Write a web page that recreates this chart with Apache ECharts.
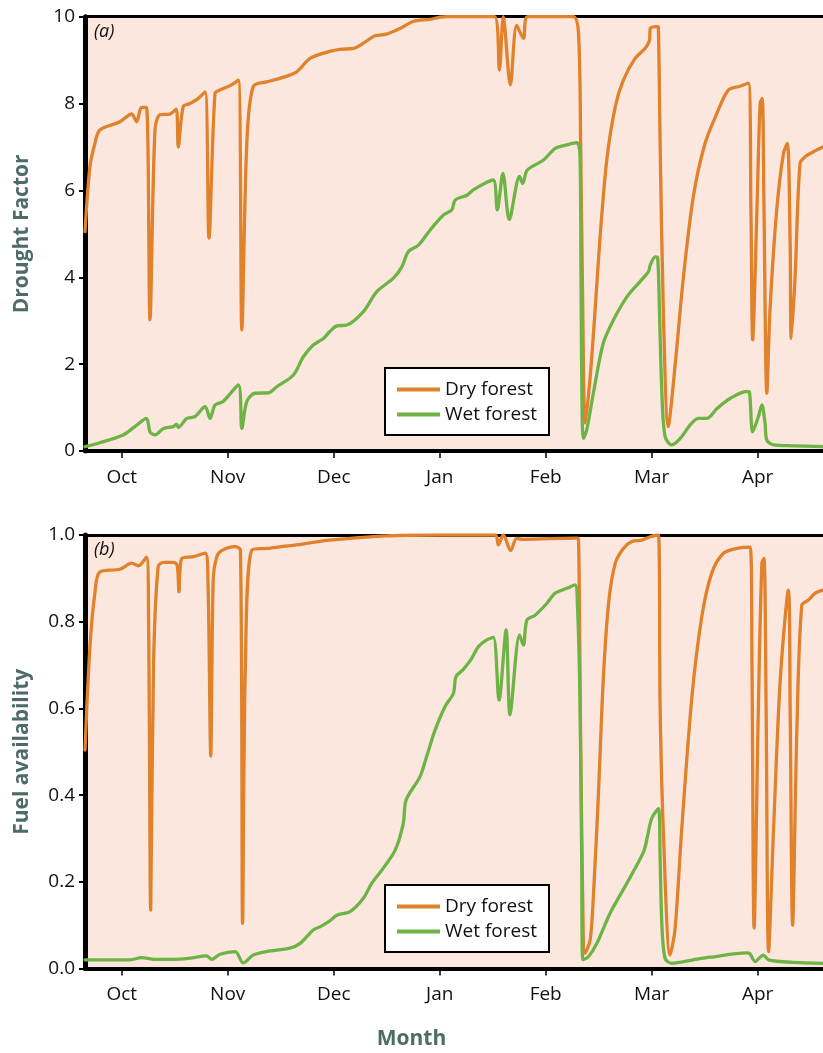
<!DOCTYPE html>
<html><head><meta charset="utf-8">
<script src="https://cdn.jsdelivr.net/npm/echarts@6/dist/echarts.min.js"></script>
<style>html,body{margin:0;padding:0;background:#fff}#c{width:823px;height:1053px}</style>
</head><body><div id="c"></div>
<script>
// x = days after the October tick (one month = 30 units)
const monthTicks = [0, 30, 60, 90, 120, 150, 180];
const monthLabels = ['Oct', 'Nov', 'Dec', 'Jan', 'Feb', 'Mar', 'Apr'];
const droughtTicks = [0, 2, 4, 6, 8, 10];
const fuelTicks = [0, 0.2, 0.4, 0.6, 0.8, 1.0];

const dryDrought = [[-10.4,5.05],[-9.0,6.55],[-7.6,7.08],[-6.2,7.39],[-0.5,7.58],[2.8,7.76],[4.2,7.58],[5.6,7.91],[7.0,7.91],[8.0,3.02],[9.4,7.39],[10.8,7.74],[13.7,7.76],[15.4,7.87],[16.0,7.0],[17.4,7.93],[19.3,8.0],[21.7,8.12],[23.6,8.27],[24.7,4.9],[26.4,8.24],[27.8,8.31],[31.1,8.43],[33.0,8.54],[34.0,2.79],[35.4,7.08],[37.2,8.39],[41.0,8.5],[44.8,8.58],[49.5,8.73],[53.3,9.04],[58.9,9.2],[61.8,9.25],[65.6,9.27],[68.4,9.39],[71.7,9.56],[75.0,9.6],[78.8,9.73],[82.5,9.89],[87.3,9.94],[90.1,9.99],[92,10],[105.5,10],[106.9,8.77],[108.0,10],[110.0,8.43],[111.8,9.8],[113.7,9.5],[114.9,10],[127.8,10],[129.3,9.6],[129.9,7.08],[130.5,3.25],[131.2,0.64],[132.6,1.71],[134.0,3.25],[135.4,4.93],[137.3,6.7],[139.7,7.93],[142.0,8.54],[145.3,9.04],[148.1,9.27],[149.4,9.46],[149.6,9.73],[151.5,9.77],[151.9,9.75],[152.4,7.08],[153.3,3.25],[154.7,0.56],[156.6,1.94],[159.0,4.01],[161.8,5.86],[165.1,7.08],[168.5,7.78],[171.7,8.31],[175.0,8.40],[177.4,8.47],[178.1,5.55],[178.6,2.56],[179.8,5.55],[180.7,8.0],[181.3,8.12],[181.8,5.55],[182.6,1.33],[183.5,3.25],[185.4,5.55],[187.3,6.85],[188.4,7.08],[189.2,4.78],[189.5,2.59],[190.6,4.01],[192.0,6.62],[193.5,6.78],[195.8,6.89],[198.5,7.0]];

const wetDrought = [[-10.4,0.1],[-6.2,0.19],[0.4,0.37],[3.7,0.56],[7.0,0.75],[8.0,0.44],[9.4,0.37],[11.8,0.52],[14.6,0.56],[15.5,0.62],[16.0,0.54],[18.4,0.75],[20.7,0.79],[23.6,1.02],[25.0,0.75],[26.4,1.06],[28.7,1.14],[33.0,1.52],[34.0,0.52],[35.4,1.14],[37.7,1.33],[41.5,1.34],[43.9,1.48],[48.6,1.75],[51.4,2.17],[54.2,2.44],[57.1,2.59],[58.9,2.75],[60.9,2.88],[63.7,2.9],[68.4,3.21],[72.2,3.67],[76.9,3.98],[79.3,4.24],[81.1,4.59],[84.0,4.74],[87.3,5.09],[91.0,5.43],[93.4,5.55],[94.4,5.78],[97.7,5.89],[99.5,6.01],[102.4,6.15],[105.2,6.24],[106.3,5.55],[107.9,6.39],[109.7,5.33],[112.6,6.32],[113.5,6.16],[114.8,6.47],[119.4,6.7],[122.7,6.97],[126.0,7.05],[128.8,7.1],[129.7,6.85],[130.0,4.01],[130.3,0.94],[130.7,0.29],[131.6,0.48],[133.5,1.33],[136.3,2.48],[139.2,3.02],[143.0,3.55],[146.7,3.9],[149.1,4.13],[149.6,4.28],[151.0,4.47],[151.7,4.45],[152.2,3.25],[152.9,1.33],[153.8,0.33],[155.7,0.14],[158.1,0.29],[160.9,0.6],[163.2,0.75],[165.6,0.75],[168.5,0.98],[172.2,1.21],[176.9,1.37],[177.7,1.35],[178.6,0.44],[180.2,0.79],[181.2,1.06],[182.1,0.64],[182.6,0.25],[184.5,0.14],[190.1,0.12],[198.5,0.1]];

const dryFuel = [[-10.4,0.504],[-9.0,0.742],[-7.6,0.866],[-6.2,0.915],[-0.5,0.921],[2.8,0.935],[4.7,0.929],[7.0,0.949],[7.6,0.8],[8.2,0.135],[9.0,0.7],[10.3,0.927],[11.8,0.937],[14.6,0.937],[15.7,0.93],[16.2,0.869],[17.0,0.946],[20.3,0.95],[23.6,0.958],[24.4,0.9],[25.2,0.49],[25.9,0.9],[26.9,0.95],[28.3,0.964],[32.1,0.973],[33.6,0.965],[34.2,0.104],[35.0,0.7],[36.8,0.965],[41.0,0.969],[49.5,0.977],[53.3,0.982],[58.9,0.988],[75.0,0.998],[90.1,1.0],[105.7,1.0],[106.6,0.977],[108.0,1.0],[110.1,0.964],[111.8,0.992],[113.7,0.99],[128.8,0.993],[129.3,0.99],[129.7,0.704],[130.2,0.32],[131.2,0.035],[132.6,0.066],[133.5,0.166],[134.9,0.396],[136.3,0.666],[137.8,0.842],[139.7,0.935],[142.0,0.969],[144.4,0.985],[147.2,0.988],[149.6,0.996],[151.9,1.0],[152.4,0.6],[153.3,0.32],[155.2,0.031],[156.6,0.089],[158.5,0.32],[161.4,0.627],[164.2,0.812],[167.0,0.912],[170.3,0.958],[174.1,0.969],[177.9,0.972],[178.4,0.7],[179.0,0.093],[180.2,0.6],[181.2,0.935],[181.8,0.946],[182.4,0.6],[183.1,0.039],[184.5,0.32],[186.4,0.666],[188.7,0.873],[189.2,0.6],[189.9,0.1],[191.1,0.55],[192.5,0.838],[194.4,0.85],[196.3,0.866],[198.5,0.873]];

const wetFuel = [[-10.4,0.02],[2.3,0.02],[5.6,0.025],[9.9,0.021],[18.4,0.023],[24.0,0.029],[25.5,0.021],[27.8,0.033],[32.1,0.039],[34.4,0.013],[37.2,0.031],[41.0,0.039],[47.6,0.047],[50.5,0.058],[54.2,0.089],[56.1,0.096],[58.9,0.11],[60.9,0.123],[64.6,0.131],[68.4,0.162],[70.8,0.197],[74.0,0.231],[77.4,0.273],[79.7,0.335],[80.5,0.389],[84.4,0.442],[86.3,0.489],[88.7,0.55],[91.5,0.604],[93.9,0.635],[94.6,0.673],[96.7,0.69],[99.1,0.716],[100.9,0.742],[103.3,0.758],[105.2,0.764],[106.8,0.619],[108.8,0.781],[109.9,0.585],[112.6,0.769],[113.7,0.746],[114.7,0.804],[117.0,0.815],[120.3,0.842],[122.7,0.866],[126.0,0.877],[128.3,0.885],[129.0,0.835],[129.7,0.627],[130.2,0.243],[130.5,0.02],[132.1,0.027],[134.5,0.058],[138.2,0.127],[143.0,0.197],[147.7,0.269],[148.8,0.304],[150.0,0.346],[151.9,0.369],[152.4,0.25],[152.9,0.1],[153.8,0.023],[155.7,0.012],[161.8,0.02],[166.6,0.026],[176.9,0.036],[177.7,0.035],[179.3,0.016],[181.6,0.031],[183.1,0.02],[190.1,0.014],[198.5,0.012]];

const DRY = '#E0812B', WET = '#6DB345', BG = '#FCE7DE', TITLE = '#4E6B69';
const FONT = '"Open Sans", sans-serif';

function xAxisFor(gi) {
  return {
    type: 'value', gridIndex: gi, min: -10.4, max: 198.5,
    axisLine: { show: true, onZero: false, lineStyle: { color: '#000', width: 4 } },
    axisTick: { show: true, customValues: monthTicks, length: 7, lineStyle: { color: '#000', width: 1.5 } },
    axisLabel: { show: true, customValues: monthTicks, margin: 17, color: '#111', fontSize: 19, fontFamily: FONT,
      formatter: v => monthLabels[monthTicks.indexOf(v)] },
    splitLine: { show: false }
  };
}
function topAxisFor(gi) {
  return { type: 'value', gridIndex: gi, position: 'top', min: -10.4, max: 198.5,
    axisLine: { show: true, onZero: false, lineStyle: { color: '#000', width: 3 } },
    axisTick: { show: false }, axisLabel: { show: false }, splitLine: { show: false } };
}
function yAxisFor(gi, ticks, name, fmt) {
  return {
    type: 'value', gridIndex: gi, min: ticks[0], max: ticks[ticks.length - 1], interval: ticks[1] - ticks[0],
    name: name, nameLocation: 'middle', nameGap: 52,
    nameTextStyle: { color: TITLE, fontSize: 21, fontWeight: 'bold', fontFamily: FONT },
    axisLine: { show: true, onZero: false, lineStyle: { color: '#000', width: 5 } },
    axisTick: { show: true, length: 6, lineStyle: { color: '#000', width: 2 } },
    axisLabel: { color: '#111', fontSize: 19, fontFamily: FONT, margin: 10, formatter: fmt },
    splitLine: { show: false }
  };
}
function legendFor(top) {
  return {
    data: ['Dry forest', 'Wet forest'], orient: 'vertical', left: 385, top: top,
    backgroundColor: '#fff', borderColor: '#000', borderWidth: 2, borderRadius: 0,
    padding: [12, 12, 11, 12], itemGap: 6, itemWidth: 43, itemHeight: 4, icon: 'rect',
    textStyle: { fontSize: 19, fontFamily: FONT, color: '#111' }
  };
}
function line(name, data, color, gi) {
  return { name: name, type: 'line', xAxisIndex: gi * 2, yAxisIndex: gi, data: data,
    showSymbol: false, symbol: 'none', smooth: 0.3,
    lineStyle: { color: color, width: 3.3, join: 'round', cap: 'round' }, itemStyle: { color: color }, z: 3 };
}

const chart = echarts.init(document.getElementById('c'), null, { renderer: 'canvas' });
chart.setOption({
  animation: false,
  backgroundColor: '#fff',
  grid: [
    { left: 85, right: 0, top: 16.7, height: 434.3, show: true, backgroundColor: BG, borderWidth: 0, outerBoundsMode: 'none', containLabel: false },
    { left: 85, right: 0, top: 535, height: 433.5, show: true, backgroundColor: BG, borderWidth: 0, outerBoundsMode: 'none', containLabel: false }
  ],
  xAxis: [xAxisFor(0), topAxisFor(0), xAxisFor(1), topAxisFor(1)],
  yAxis: [
    yAxisFor(0, droughtTicks, 'Drought Factor', v => String(v)),
    yAxisFor(1, fuelTicks, 'Fuel availability', v => v.toFixed(1))
  ],
  legend: [legendFor(368), legendFor(885)],
  series: [
    line('Dry forest', dryDrought, DRY, 0),
    line('Wet forest', wetDrought, WET, 0),
    line('Dry forest', dryFuel, DRY, 1),
    line('Wet forest', wetFuel, WET, 1)
  ],
  graphic: [
    { type: 'text', left: 94, top: 23, style: { text: '(a)', fontSize: 18, fontStyle: 'italic', fontFamily: FONT, fill: '#111' } },
    { type: 'text', left: 94, top: 541, style: { text: '(b)', fontSize: 18, fontStyle: 'italic', fontFamily: FONT, fill: '#111' } },
    { type: 'text', left: 'center', top: 1029, style: { text: 'Month', fontSize: 21, fontWeight: 'bold', fontFamily: FONT, fill: TITLE } }
  ]
});
</script></body></html>
